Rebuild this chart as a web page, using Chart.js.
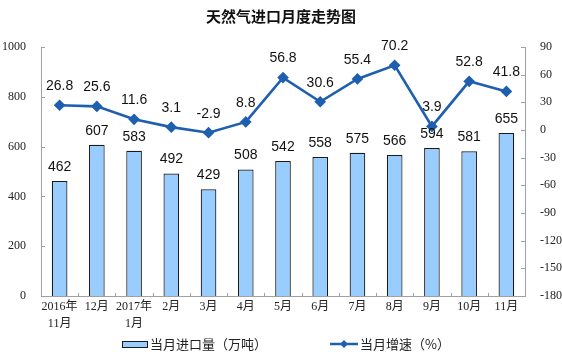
<!DOCTYPE html>
<html>
<head>
<meta charset="utf-8">
<script src="https://cdn.jsdelivr.net/npm/chart.js@4"></script>
<style>
  html, body { margin: 0; padding: 0; background: #fff; }
  #wrap { width: 562px; height: 352px; }
</style>
</head>
<body>
<div id="wrap"><canvas id="c" width="562" height="352"></canvas></div>
<script>
const months = [['2016年', '11月'], '12月', ['2017年', '1月'], '2月', '3月', '4月', '5月', '6月', '7月', '8月', '9月', '10月', '11月']
const imports = [462, 607, 583, 492, 429, 508, 542, 558, 575, 566, 594, 581, 655]
const growth = [26.8, 25.6, 11.6, 3.1, -2.9, 8.8, 56.8, 30.6, 55.4, 70.2, 3.9, 52.8, 41.8]
const leftTicks = [0, 200, 400, 600, 800, 1000]
const rightTicks = [-180, -150, -120, -90, -60, -30, 0, 30, 60, 90]

const title = '天然气进口月度走势图'
const barName = '当月进口量（万吨）'
const lineName = '当月增速（%）'

const barFill = '#99CCFF'
const barEdge = '#1a1a1a'
const lineColor = '#1F5FB0'
const axisColor = '#a0a0a0'
const serif = '"Liberation Serif", "Noto Sans CJK SC", serif'

// labels, inner ticks, title and legend
const extras = {
  id: 'extras',
  afterDatasetsDraw(chart) {
    const { ctx, chartArea: a } = chart
    const x = chart.scales.x, yL = chart.scales.y, yR = chart.scales.y1
    ctx.save()

    // inner tick marks
    ctx.strokeStyle = axisColor
    ctx.lineWidth = 1
    ctx.beginPath()
    leftTicks.forEach((v) => {
      const py = Math.round(yL.getPixelForValue(v)) + 0.5
      ctx.moveTo(a.left, py); ctx.lineTo(a.left + 4, py)
    })
    rightTicks.forEach((v) => {
      const py = Math.round(yR.getPixelForValue(v)) + 0.5
      ctx.moveTo(a.right - 4, py); ctx.lineTo(a.right, py)
    })
    for (let i = 1; i < months.length; i++) {
      const px = Math.round((x.getPixelForValue(i - 1) + x.getPixelForValue(i)) / 2) + 0.5
      ctx.moveTo(px, a.bottom); ctx.lineTo(px, a.bottom - 3)
    }
    ctx.stroke()

    // value labels
    ctx.fillStyle = '#111'
    ctx.font = '14px "Liberation Sans", Arial, sans-serif'
    ctx.textAlign = 'center'
    ctx.textBaseline = 'middle'
    chart.getDatasetMeta(0).data.forEach((bar, i) => {
      ctx.fillText(String(imports[i]), bar.x, bar.y - 14)
    })
    chart.getDatasetMeta(1).data.forEach((pt, i) => {
      ctx.fillText(growth[i].toFixed(1), pt.x, pt.y - 19)
    })

    // title
    ctx.font = 'bold 15px "Noto Sans CJK SC", sans-serif'
    ctx.fillText(title, 281, 16)

    // legend
    ctx.font = '13px "Noto Sans CJK SC", sans-serif'
    ctx.textAlign = 'left'
    ctx.fillStyle = barFill
    ctx.strokeStyle = barEdge
    ctx.lineWidth = 1
    ctx.fillRect(122.5, 341.5, 25, 6)
    ctx.strokeRect(122.5, 341.5, 25, 6)
    ctx.fillStyle = '#222'
    ctx.fillText(barName, 150, 344)

    ctx.strokeStyle = lineColor
    ctx.lineWidth = 2.5
    ctx.beginPath(); ctx.moveTo(330, 344); ctx.lineTo(358, 344); ctx.stroke()
    ctx.fillStyle = lineColor
    ctx.beginPath()
    ctx.moveTo(344, 340); ctx.lineTo(348, 344); ctx.lineTo(344, 348); ctx.lineTo(340, 344)
    ctx.closePath(); ctx.fill()
    ctx.fillStyle = '#222'
    ctx.fillText(lineName, 360, 344)

    ctx.restore()
  },
}

new Chart(document.getElementById('c'), {
  data: {
    labels: months,
    datasets: [
      {
        type: 'bar',
        label: barName,
        data: imports,
        yAxisID: 'y',
        backgroundColor: barFill,
        borderColor: barEdge,
        borderWidth: 1.2,
        barPercentage: 0.42,
        categoryPercentage: 1,
        order: 2,
      },
      {
        type: 'line',
        label: lineName,
        data: growth,
        yAxisID: 'y1',
        borderColor: lineColor,
        backgroundColor: lineColor,
        borderWidth: 2.6,
        pointStyle: 'rectRot',
        pointRadius: 4,
        tension: 0,
        order: 1,
      },
    ],
  },
  options: {
    responsive: false,
    animation: false,
    layout: { padding: { top: 47, bottom: 22, left: 0, right: 0 } },
    plugins: { legend: false, title: false, tooltip: false },
    scales: {
      x: {
        offset: true,
        grid: { display: false, drawTicks: false, tickLength: 0 },
        border: { color: axisColor },
        ticks: {
          color: '#222',
          font: { family: serif, size: 12, lineHeight: 1.45 },
          padding: 2,
          maxRotation: 0,
          autoSkip: false,
        },
        afterFit: (s) => { s.height = 34 },
      },
      y: {
        position: 'left',
        min: 0,
        max: 1000,
        afterBuildTicks: (s) => { s.ticks = leftTicks.map((v) => ({ value: v })) },
        grid: { display: false },
        border: { color: axisColor },
        ticks: { color: '#222', font: { family: serif, size: 12 }, padding: 7, callback: (v) => String(v) },
        afterFit: (s) => { s.width = 41 },
      },
      y1: {
        position: 'right',
        min: -180,
        max: 90,
        afterBuildTicks: (s) => { s.ticks = rightTicks.map((v) => ({ value: v })) },
        grid: { display: false },
        border: { color: axisColor },
        ticks: { color: '#222', font: { family: serif, size: 12 }, padding: 7, callback: (v) => String(v) },
        afterFit: (s) => { s.width = 37 },
      },
    },
  },
  plugins: [extras],
})
</script>
</body>
</html>
